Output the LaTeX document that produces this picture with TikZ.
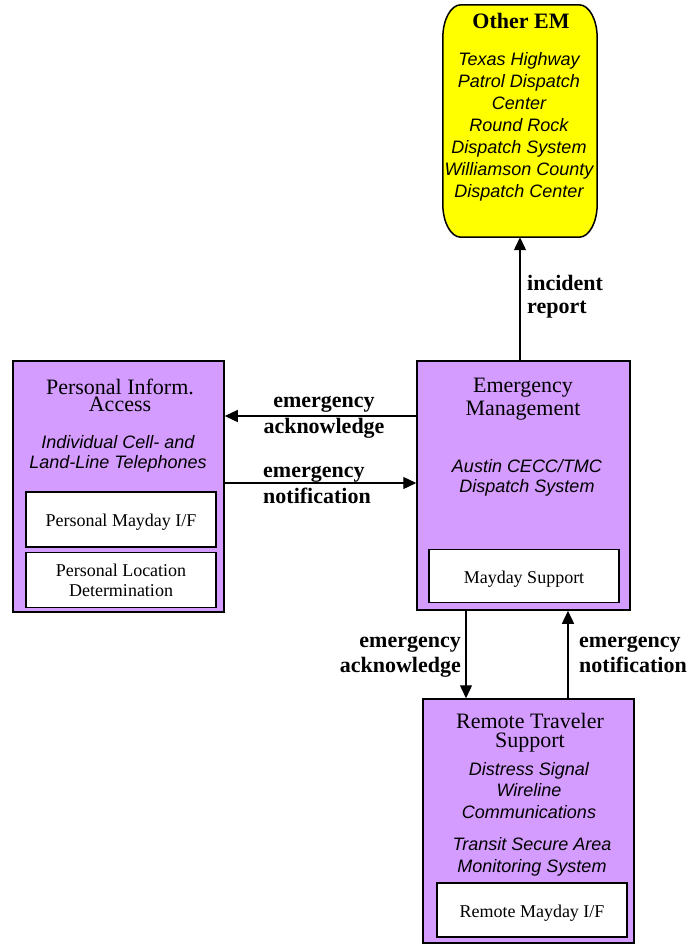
\documentclass[tikz,border=0pt]{standalone}
\usepackage{fontspec}
\setmainfont{Liberation Serif}
\newfontfamily\helv{Liberation Sans}
\usetikzlibrary{arrows.meta,calc}
\definecolor{lilac}{RGB}{212,156,255}
\definecolor{emyellow}{RGB}{255,255,0}

% Multi-line text nodes below are placed by the baseline of their last line.
\tikzset{
  pack/.style 2 args={rectangle, draw=black, line width=1.5pt, fill=lilac,
    minimum width=#1, minimum height=#2, inner sep=0pt},
  subbox/.style 2 args={rectangle, draw=black, line width=1.5pt, fill=white,
    minimum width=#1, minimum height=#2, inner sep=0pt, align=center,
    font=\fontsize{18}{20}\selectfont},
  title/.style={anchor=base, align=center, inner sep=0pt,
    font=\fontsize{22}{#1}\selectfont},
  desc/.style={anchor=base, align=center, inner sep=0pt,
    font=\helv\itshape\fontsize{18}{#1}\selectfont},
  flow/.style={inner sep=0pt, font=\bfseries\fontsize{22}{#1}\selectfont},
  arr/.style={line width=1.3pt, -{Triangle[length=13pt,width=12pt]}},
}

\begin{document}
\begin{tikzpicture}[x=1pt,y=-1pt]
\useasboundingbox (0,0) rectangle (691,946);

% ---- Other EM (rounded terminal shape) ----
\node[minimum width=154pt, minimum height=232pt, inner sep=0pt] (oem) at (520,121) {};
\draw[line width=1.5pt, fill=emyellow]
  ($(oem.north west)+(18,0)$) -- ($(oem.north east)+(-18,0)$)
  .. controls ($(oem.north east)+(-8,0)$) and ($(oem.north east)+(0,15)$) .. ($(oem.north east)+(0,33)$)
  -- ($(oem.south east)+(0,-33)$)
  .. controls ($(oem.south east)+(0,-15)$) and ($(oem.south east)+(-8,0)$) .. ($(oem.south east)+(-18,0)$)
  -- ($(oem.south west)+(18,0)$)
  .. controls ($(oem.south west)+(8,0)$) and ($(oem.south west)+(0,-15)$) .. ($(oem.south west)+(0,-33)$)
  -- ($(oem.north west)+(0,33)$)
  .. controls ($(oem.north west)+(0,15)$) and ($(oem.north west)+(8,0)$) .. cycle;
\node[anchor=base, inner sep=0pt, font=\bfseries\fontsize{22}{22}\selectfont] (oemtitle) at (521,28) {Other EM};
\node[desc=22] (oemdesc) at (519,197) {Texas Highway\\Patrol Dispatch\\Center\\Round Rock\\Dispatch System\\Williamson County\\Dispatch Center};

% ---- Personal Information Access ----
\node[pack={211pt}{251pt}] (pia) at (118.5,486.5) {};
\node[title=17] (piatitle) at (120,411) {Personal Inform.\\Access};
\node[desc=20] (piadesc) at (118,468) {Individual Cell- and\\Land-Line Telephones};
\node[subbox={190pt}{55pt}, text height=14pt, text depth=0pt] (pmif) at (121,519.5) {Personal Mayday I/F};
\node[subbox={190pt}{55pt}] (pld) at (121,580) {Personal Location\\Determination};

% ---- Emergency Management ----
\node[pack={213pt}{249pt}] (em) at (523.5,485.5) {};
\node[title=23] (emtitle) at (523,415) {Emergency\\Management};
\node[desc=20] (emdesc) at (527,492) {Austin CECC/TMC\\Dispatch System};
\node[subbox={190pt}{53pt}, text height=14pt, text depth=0pt] (ms) at (524,576) {Mayday Support};

% ---- Remote Traveler Support ----
\node[pack={211pt}{244pt}] (rts) at (528.5,821) {};
\node[title=19] (rtstitle) at (530,747) {Remote Traveler\\Support};
\node[desc=21.5] (rtsdesc) at (529,818) {Distress Signal\\Wireline\\Communications};
\node[desc=22] (rtsdescb) at (532,872) {Transit Secure Area\\Monitoring System};
\node[subbox={190pt}{54pt}, text height=14pt, text depth=0pt] (rmif) at (532,910) {Remote Mayday I/F};

% ---- flows ----
\draw[arr] (oem.south |- em.north) -- (oem.south);
\node[flow=23, anchor=base west, align=left] (lblinc) at (527,313) {incident\\report};

\draw[arr] (em.west |- 0,416) -- (pia.east |- 0,416);
\node[flow=26, anchor=base, align=center] (lblack) at (324,433) {emergency\\acknowledge};

\draw[arr] (pia.east |- 0,483) -- (em.west |- 0,483);
\node[flow=26, anchor=base west, align=left] (lblnot) at (263,503) {emergency\\notification};

\draw[arr] (em.south -| 466,0) -- (rts.north -| 466,0);
\node[flow=25, anchor=base east, align=right] (lblackb) at (461,672) {emergency\\acknowledge};

\draw[arr] (rts.north -| 568,0) -- (em.south -| 568,0);
\node[flow=25, anchor=base west, align=left] (lblnotb) at (579,672) {emergency\\notification};
\end{tikzpicture}
\end{document}
